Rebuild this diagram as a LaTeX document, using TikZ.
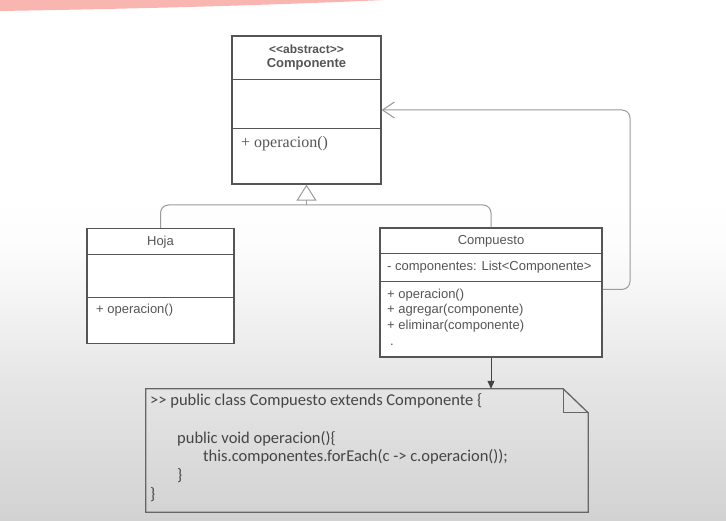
\documentclass[tikz,border=0pt]{standalone}
\usepackage{fontspec}
\setmainfont{Liberation Sans}[Ligatures=TeXOff]
\newfontfamily\umlserif{Liberation Serif}
\newfontfamily\notefont{Carlito}[Ligatures=TeXOff]
\usetikzlibrary{arrows.meta,calc}
\definecolor{bgA}{HTML}{D2D2D2}
\definecolor{bgB}{HTML}{DCDCDC}
\definecolor{bgC}{HTML}{E6E6E6}
\definecolor{bgD}{HTML}{F4F4F4}
\definecolor{bgE}{HTML}{FCFCFC}
\definecolor{boxline}{HTML}{555555}
\definecolor{connline}{HTML}{9A9A9A}
\definecolor{umltext}{HTML}{555555}
\definecolor{notetext}{HTML}{454545}
\definecolor{pinkarc}{HTML}{F9B5B0}
\pgfdeclareverticalshading{bgshade}{100bp}{color(0bp)=(bgA); color(25bp)=(bgA); color(31.8bp)=(bgB); color(38.5bp)=(bgC); color(46.2bp)=(bgD); color(51bp)=(bgE); color(56bp)=(white); color(100bp)=(white)}
\tikzset{
  umlbox/.style={draw=boxline, line width=1.2pt, fill=white, inner sep=0pt},
  divider/.style={draw=boxline, line width=1.1pt},
  umltxt/.style={text=umltext, inner sep=0pt, font=\fontsize{13}{15}\selectfont},
  umltitle/.style={umltxt, font=\fontsize{13}{15}\selectfont\bfseries},
  conn/.style={draw=connline, line width=1pt},
  notetxt/.style={text=notetext, inner sep=0pt, anchor=mid west, font=\notefont\fontsize{16.5}{19}\selectfont},
  noteline/.style={draw=boxline!90, line width=1.3pt}
}
\begin{document}
\begin{tikzpicture}[x=1pt,y=-1pt]
\useasboundingbox (0,0) rectangle (726,521);
\shade[shading=bgshade] (0,0) rectangle (726,521);
\fill[pinkarc] (0,0) -- (385,0) .. controls (250,6) and (120,9) .. (0,11) -- cycle;

% Componente
\node[umlbox, minimum width=149pt, minimum height=148pt] (comp) at (306.5,110) {};
\draw[divider] ($(comp.north west)+(0,44)$) -- ($(comp.north east)+(0,44)$);
\draw[divider] ($(comp.north west)+(0,93)$) -- ($(comp.north east)+(0,93)$);
\node[umltitle, font=\fontsize{12}{14}\selectfont\bfseries] (compst) at (306.5,49) {\textless\kern0pt\textless\kern0pt abstract\textgreater\kern0pt\textgreater};
\node[umltitle] (compname) at (306.5,64.5) {Componente};
\node[umltxt, anchor=mid west, font=\umlserif\fontsize{16}{18}\selectfont] (compop) at (241,145) {+ operacion()};

% Hoja
\node[umlbox, minimum width=147pt, minimum height=115pt] (hoja) at (160.5,286) {};
\draw[divider] ($(hoja.north west)+(0,27)$) -- ($(hoja.north east)+(0,27)$);
\draw[divider] ($(hoja.north west)+(0,70)$) -- ($(hoja.north east)+(0,70)$);
\node[umltxt] (hojaname) at (160.5,242) {Hoja};
\node[umltxt, anchor=mid west] (hojaop) at (96,311) {+ operacion()};

% Compuesto
\node[umlbox, minimum width=222pt, minimum height=129pt] (compu) at (491,292.5) {};
\draw[divider] ($(compu.north west)+(0,26)$) -- ($(compu.north east)+(0,26)$);
\draw[divider] ($(compu.north west)+(0,54)$) -- ($(compu.north east)+(0,54)$);
\node[umltxt] (compuname) at (491,241) {Compuesto};
\node[umltxt, anchor=mid west] (compuattr) at (387,267.5) {- componentes: List\textless Componente\textgreater};
\node[umltxt, anchor=mid west] (compuop1) at (387,295.5) {+ operacion()};
\node[umltxt, anchor=mid west] (compuop2) at (387,311) {+ agregar(componente)};
\node[umltxt, anchor=mid west] (compuop3) at (387,326.5) {+ eliminar(componente)};
\node[umltxt, anchor=mid west] (compudot) at (390,343) {.};

% inheritance
\coordinate (bus) at (306.5,205);
\draw[conn, rounded corners=8pt] (hoja.north) |- (bus) -| (compu.north);
\draw[conn, -{Triangle[open, fill=white, length=16pt, width=20pt]}] (bus) -- (comp.south);

% association
\coordinate (assocstart) at ($(compu.north east)+(0,62)$);
\coordinate (turn) at (630,110);
\draw[conn, rounded corners=8pt, -{Straight Barb[length=12pt, width=16pt]}] (assocstart) -| (turn) -- (comp.east);

% note
\node[inner sep=0pt, minimum width=442pt, minimum height=123pt] (note) at (367,450.5) {};
\draw[noteline] (note.north west) -- ($(note.north east)+(-25,0)$) -- ($(note.north east)+(0,24)$) -- (note.south east) -- (note.south west) -- cycle;
\draw[noteline] ($(note.north east)+(-25,0)$) -- ($(note.north east)+(-25,24)$) -- ($(note.north east)+(0,24)$);
\draw[draw=boxline!80!black, line width=1pt, -{Triangle[length=8pt, width=7pt]}] (compu.south) -- (compu.south |- note.north);

\node[notetxt] (n1) at (150,403) {\textgreater\kern0pt\textgreater{} public class Compuesto extends Componente \{};
\node[notetxt] (n2) at (177,441) {public void operacion()\{};
\node[notetxt] (n3) at (203,459) {this.componentes.forEach(c -\textgreater{} c.operacion());};
\node[notetxt] (n4) at (177,478) {\}};
\node[notetxt] (n5) at (150,497) {\}};
\end{tikzpicture}
\end{document}
